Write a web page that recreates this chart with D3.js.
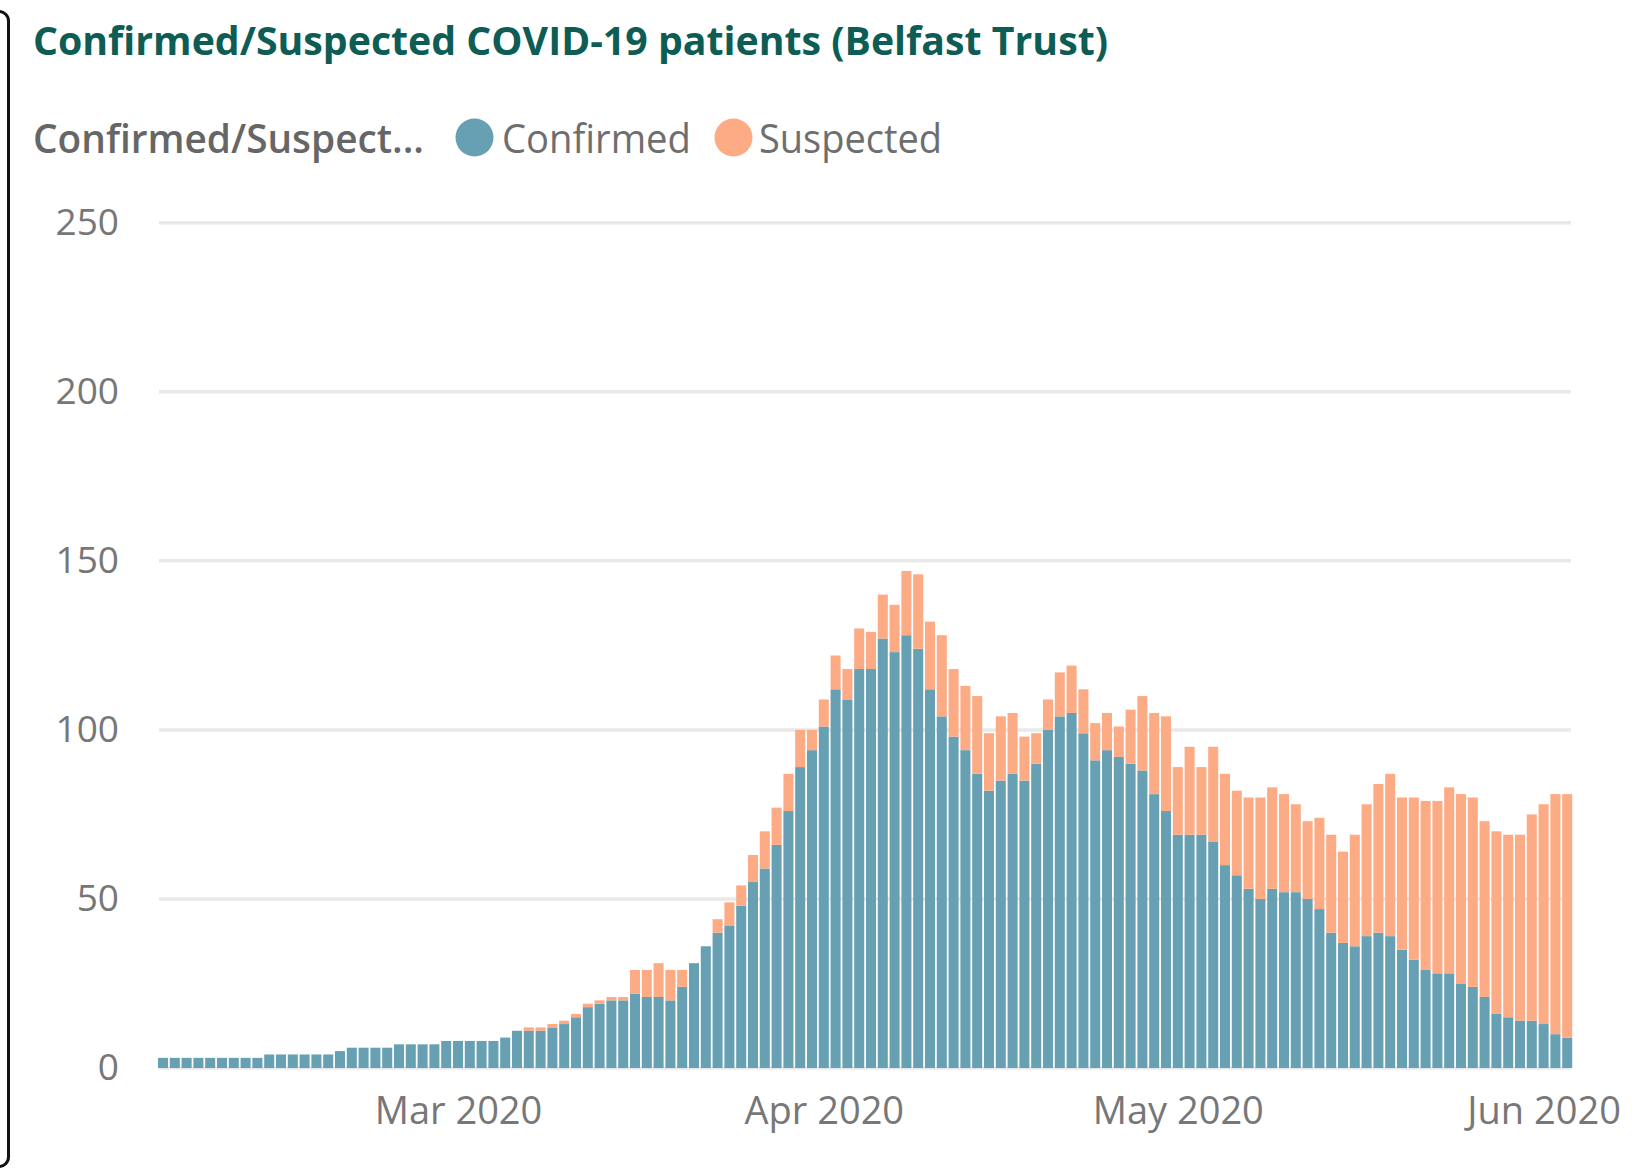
<!DOCTYPE html>
<html>
<head>
<meta charset="utf-8">
<script src="https://cdn.jsdelivr.net/npm/d3@7"></script>
<style>
  html, body { margin: 0; padding: 0; background: #ffffff; }
  svg { display: block; }
  text { font-family: "Open Sans", "Noto Sans", sans-serif; }
</style>
</head>
<body>
<svg id="chart" width="1639" height="1168"></svg>
<script>
// ---- data -------------------------------------------------------------
const chartTitle = "Confirmed/Suspected COVID-19 patients (Belfast Trust)";
const legendTitle = "Confirmed/Suspect...";
const seriesNames = ["Confirmed", "Suspected"];

// one bar per day, starting on this date
const startDate = "2020-02-05";

const confirmed = [
  3, 3, 3, 3, 3, 3, 3, 3, 3,
  4, 4, 4, 4, 4, 4,
  5,
  6, 6, 6, 6,
  7, 7, 7, 7,
  8, 8, 8, 8, 8,
  9, 11,
  11, 11, 12, 13, 15, 18, 19, 20, 20,
  22, 21, 21, 20, 24,
  31, 36, 40, 42, 48,
  55, 59, 66, 76, 89,
  94, 101, 112, 109, 118,
  118, 127, 123, 128, 124,
  112, 104, 98, 94, 87,
  82, 85, 87, 85, 90,
  100, 104, 105, 99, 91,
  94, 92, 90, 88, 81,
  76, 69, 69, 69, 67,
  60, 57, 53, 50, 53,
  52, 52, 50, 47, 40,
  37, 36, 39, 40, 39,
  35, 32, 29, 28, 28,
  25, 24, 21, 16, 15,
  14, 14, 13, 10, 9
];

const suspected = [
  0, 0, 0, 0, 0, 0, 0, 0, 0,
  0, 0, 0, 0, 0, 0,
  0,
  0, 0, 0, 0,
  0, 0, 0, 0,
  0, 0, 0, 0, 0,
  0, 0,
  1, 1, 1, 1, 1, 1, 1, 1, 1,
  7, 8, 10, 9, 5,
  0, 0, 4, 7, 6,
  8, 11, 11, 11, 11,
  6, 8, 10, 9, 12,
  11, 13, 14, 19, 22,
  20, 24, 20, 19, 23,
  17, 19, 18, 13, 9,
  9, 13, 14, 13, 11,
  11, 9, 16, 22, 24,
  28, 20, 26, 20, 28,
  27, 25, 27, 30, 30,
  29, 26, 23, 27, 29,
  27, 33, 39, 44, 48,
  45, 48, 50, 51, 55,
  56, 56, 52, 54, 54,
  55, 61, 65, 71, 72
];

const yTickValues = [0, 50, 100, 150, 200, 250];
const xTickDates = ["2020-03-01", "2020-04-01", "2020-05-01", "2020-06-01"];

// ---- styling ----------------------------------------------------------
const colors = { Confirmed: "#67a0b2", Suspected: "#fdab85" };
const titleColor = "#0d5d55";
const gridColor = "#e9e9e9";
const axisTextColor = "#777777";

// plot box
const plot = { left: 157.1, right: 1573.1, top: 222.7, bottom: 1068 };

const svg = d3.select("#chart");

// ---- rows -------------------------------------------------------------
const day0 = new Date(startDate + "T00:00:00Z");
const rows = confirmed.map((c, i) => ({
  date: d3.utcDay.offset(day0, i),
  Confirmed: c,
  Suspected: suspected[i]
}));

// ---- scales -----------------------------------------------------------
const x = d3.scaleUtc()
  .domain([d3.utcHour.offset(rows[0].date, -12),
           d3.utcHour.offset(rows[rows.length - 1].date, 12)])
  .range([plot.left, plot.right]);

const y = d3.scaleLinear()
  .domain([0, 250])
  .range([plot.bottom, plot.top]);

const dayWidth = x(rows[1].date) - x(rows[0].date);
const barWidth = dayWidth * 0.85;

// ---- left frame edge --------------------------------------------------
svg.append("path")
  .attr("d", "M -20 11.5 H -1 A 9.5 9.5 0 0 1 8.5 21 V 1157 A 9.5 9.5 0 0 1 -1 1166.5 H -20")
  .attr("fill", "none")
  .attr("stroke", "#111")
  .attr("stroke-width", 3);

// ---- title ------------------------------------------------------------
svg.append("text")
  .attr("x", 33)
  .attr("y", 55)
  .attr("font-size", 39)
  .attr("font-weight", 700)
  .attr("fill", titleColor)
  .attr("textLength", 1075)
  .attr("lengthAdjust", "spacingAndGlyphs")
  .text(chartTitle);

// ---- legend -----------------------------------------------------------
const legend = svg.append("g");
legend.append("text")
  .attr("x", 33)
  .attr("y", 153)
  .attr("font-size", 40)
  .attr("font-weight", 600)
  .attr("fill", "#666")
  .attr("textLength", 391)
  .attr("lengthAdjust", "spacingAndGlyphs")
  .text(legendTitle);

const legendItems = [
  { name: seriesNames[0], cx: 474.5, tx: 502, tw: 189 },
  { name: seriesNames[1], cx: 733.5, tx: 759, tw: 183 }
];
legendItems.forEach(it => {
  legend.append("circle")
    .attr("cx", it.cx).attr("cy", 137.5).attr("r", 19)
    .attr("fill", colors[it.name]);
  legend.append("text")
    .attr("x", it.tx)
    .attr("y", 153)
    .attr("font-size", 40)
    .attr("fill", "#6e6e6e")
    .attr("textLength", it.tw)
    .attr("lengthAdjust", "spacingAndGlyphs")
    .text(it.name);
});

// ---- gridlines --------------------------------------------------------
svg.append("g")
  .selectAll("line")
  .data(yTickValues)
  .join("line")
  .attr("x1", 159)
  .attr("x2", 1571)
  .attr("y1", d => y(d))
  .attr("y2", d => y(d))
  .attr("stroke", gridColor)
  .attr("stroke-width", 3.5);

// ---- stacked bars -----------------------------------------------------
const stack = d3.stack().keys(seriesNames);
const layers = stack(rows);

svg.append("g")
  .selectAll("g")
  .data(layers)
  .join("g")
  .attr("fill", d => colors[d.key])
  .selectAll("rect")
  .data(d => d.filter(p => p[1] > p[0]))
  .join("rect")
  .attr("x", d => x(d.data.date) - barWidth / 2)
  .attr("width", barWidth)
  .attr("y", d => y(d[1]))
  .attr("height", d => y(d[0]) - y(d[1]));

// ---- axes -------------------------------------------------------------
const yAxis = svg.append("g")
  .attr("transform", `translate(159,0)`)
  .call(d3.axisLeft(y).tickValues(yTickValues).tickSize(0).tickPadding(40));
yAxis.select(".domain").remove();
yAxis.selectAll("text")
  .attr("font-size", 37)
  .attr("fill", axisTextColor)
  .style("font-family", '"Open Sans", "Noto Sans", sans-serif');

const xAxis = svg.append("g")
  .attr("transform", `translate(0,${plot.bottom})`)
  .call(d3.axisBottom(x)
    .tickValues(xTickDates.map(s => new Date(s + "T00:00:00Z")))
    .tickFormat(d3.utcFormat("%b %Y"))
    .tickSize(0)
    .tickPadding(29));
xAxis.select(".domain").remove();
xAxis.selectAll("text")
  .attr("font-size", 38)
  .attr("fill", axisTextColor)
  .style("font-family", '"Open Sans", "Noto Sans", sans-serif');
</script>
</body>
</html>
